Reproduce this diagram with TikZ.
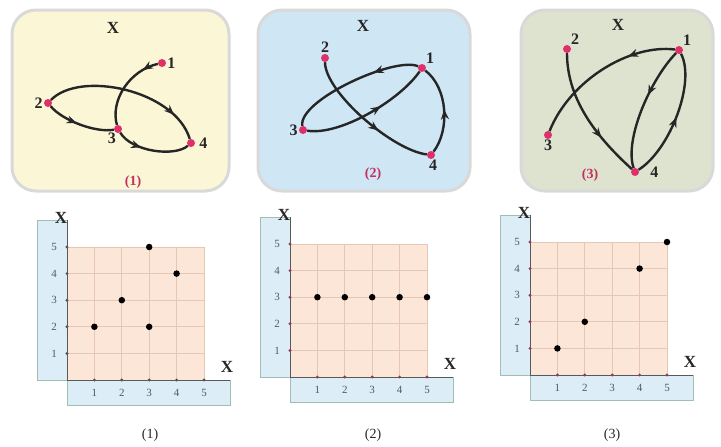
\documentclass[tikz,border=0pt]{standalone}
\usepackage{fontspec}
\setmainfont{Liberation Serif}
\usetikzlibrary{decorations.markings,arrows.meta}
\definecolor{pyel}{HTML}{FBF7D6}
\definecolor{pblue}{HTML}{CFE6F5}
\definecolor{pgreen}{HTML}{DDE3CF}
\definecolor{vmag}{HTML}{E0306A}
\definecolor{capmag}{HTML}{C2305F}
\definecolor{stripblue}{HTML}{DDEDF8}
\definecolor{stripedge}{HTML}{9DBFB4}
\definecolor{peach}{HTML}{FCE6D8}
\definecolor{gridcol}{HTML}{E6C7B4}
\definecolor{ticklab}{HTML}{4A5A70}
\tikzset{
  panel/.style={rounded corners=24pt, draw=gray!30, line width=3pt},
  vdot/.style={circle, fill=vmag, inner sep=0pt, minimum size=8pt},
  vlab/.style={font=\bfseries\fontsize{16}{16}\selectfont, text=black!85, inner sep=1pt},
  flowline/.style={line width=2.4pt, draw=black!85, postaction={decorate},
    decoration={markings, mark=at position #1 with {\arrow{Stealth[length=10pt,width=8pt]}}}},
  flowline/.default=0.5,
  panelcap/.style={font=\bfseries\fontsize{14}{14}\selectfont, text=capmag},
  setx/.style={font=\bfseries\fontsize{17}{17}\selectfont, text=black!85},
  gridline/.style={draw=gridcol, line width=0.7pt},
  axisline/.style={draw=gray!70!black, line width=0.7pt},
  ticknum/.style={font=\fontsize{11}{11}\selectfont, text=ticklab},
  pt/.style={circle, fill=black, inner sep=0pt, minimum size=6.5pt},
  gcap/.style={font=\fontsize{14}{14}\selectfont, text=black!85},
}
\newcommand\mygraph[4]{%
  \begin{scope}[shift={(#1,#2)}]
    \fill[stripblue] (-30,0) rectangle (0,-160);
    \draw[stripedge, line width=0.7pt] (0,-160) -- (-30,-160) -- (-30,0) -- (0,0);
    \fill[stripblue] (0,0) rectangle (163,25);
    \draw[stripedge, line width=0.7pt] (0,0) rectangle (163,25);
    \fill[peach] (0,0) rectangle (137,-133);
    \foreach \k in {1,...,5} {
      \draw[gridline] (\k*27.4,0) -- (\k*27.4,-133);
      \draw[gridline] (0,-\k*26.6) -- (137,-\k*26.6);
      \fill[#3] (0,-\k*26.6) circle (1.6);
      \fill[#3] (\k*27.4,0) circle (1.6);
      \node[ticknum] at (-13,-\k*26.6) {\k};
      \node[ticknum] at (\k*27.4,13) {\k};
    }
    \draw[axisline] (0,-160) -- (0,0) -- (163,0);
    \node[setx] (#4yx) at (-6,-162) {X};
    \node[setx] (#4xx) at (160,-13) {X};
  \end{scope}}
\begin{document}
\begin{tikzpicture}[x=1pt,y=-1pt]
\useasboundingbox (0,0) rectangle (721,447);
\fill[white] (0,0) rectangle (721,447);
% ---------- panel 1
\filldraw[panel, fill=pyel] (12,10) rectangle (229,191);
\node[setx] (p1x) at (113,28) {X};
\node[vdot, label={[vlab]right:1}] (a1) at (162,63) {};
\node[vdot, label={[vlab]left:2}] (a2) at (48,103) {};
\node[vdot, label={[vlab, xshift=2pt]below left:3}] (a3) at (118,129) {};
\node[vdot, label={[vlab, xshift=3pt]right:4}] (a4) at (191,143) {};
\node[panelcap] (c1) at (133,182) {(1)};
\draw[flowline=0.2] (a1) .. controls (130,70) and (110,100) .. (a3);
\draw[flowline=0.82] (a2) .. controls (80,70) and (175,90) .. (a4);
\draw[flowline=0.45] (a2) .. controls (62,120) and (95,133) .. (a3);
\draw[flowline=0.35] (a3) .. controls (132,152) and (175,157) .. (a4);
% ---------- panel 2
\filldraw[panel, fill=pblue] (258,10) rectangle (470,191);
\node[setx] (p2x) at (363,26) {X};
\node[vdot, label={[vlab]above right:1}] (b1) at (422,68) {};
\node[vdot, label={[vlab]above:2}] (b2) at (325,58) {};
\node[vdot, label={[vlab]left:3}] (b3) at (303,130) {};
\node[vdot, label={[vlab, xshift=2pt]below:4}] (b4) at (431,155) {};
\node[panelcap] (c2) at (373,174) {(2)};
\draw[flowline=0.33] (b1) .. controls (395,56) and (298,100) .. (b3);
\draw[flowline=0.6] (b3) .. controls (340,136) and (400,100) .. (b1);
\draw[flowline=0.62] (b2) .. controls (325,92) and (392,150) .. (b4);
\draw[flowline=0.5] (b4) .. controls (450,130) and (448,88) .. (b1);
% ---------- panel 3
\filldraw[panel, fill=pgreen] (521,10) rectangle (713,191);
\node[setx] (p3x) at (618,25) {X};
\node[vdot, label={[vlab]above right:1}] (g1) at (679,50) {};
\node[vdot, label={[vlab]above right:2}] (g2) at (567,49) {};
\node[vdot, label={[vlab]below:3}] (g3) at (548,135) {};
\node[vdot, label={[vlab, xshift=10pt]right:4}] (g4) at (635,172) {};
\node[panelcap] (c3) at (590,175) {(3)};
\draw[flowline=0.3] (g1) .. controls (630,44) and (570,80) .. (g3);
\draw[flowline=0.4] (g1) .. controls (650,80) and (624,140) .. (g4);
\draw[flowline=0.5] (g4) .. controls (670,150) and (696,82) .. (g1);
\draw[flowline=0.68] (g2) .. controls (567,102) and (600,140) .. (g4);
% ---------- graphs
\mygraph{67}{380}{black!70}{m}
\foreach \px/\py [count=\i] in {1/2,2/3,3/5,3/2,4/4}
  \node[pt] (mp\i) at (67+\px*27.4, 380-\py*26.6) {};
\node[gcap] (mc) at (150,435) {(1)};
\mygraph{290}{377}{vmag!80!black}{n}
\foreach \px/\py [count=\i] in {1/3,2/3,3/3,4/3,5/3}
  \node[pt] (np\i) at (290+\px*27.4, 377-\py*26.6) {};
\node[gcap] (nc) at (373,435) {(2)};
\mygraph{530}{375}{vmag!80!black}{q}
\foreach \px/\py [count=\i] in {1/1,2/2,4/4,5/5}
  \node[pt] (qp\i) at (530+\px*27.4, 375-\py*26.6) {};
\node[gcap] (qc) at (612,435) {(3)};
\end{tikzpicture}
\end{document}
